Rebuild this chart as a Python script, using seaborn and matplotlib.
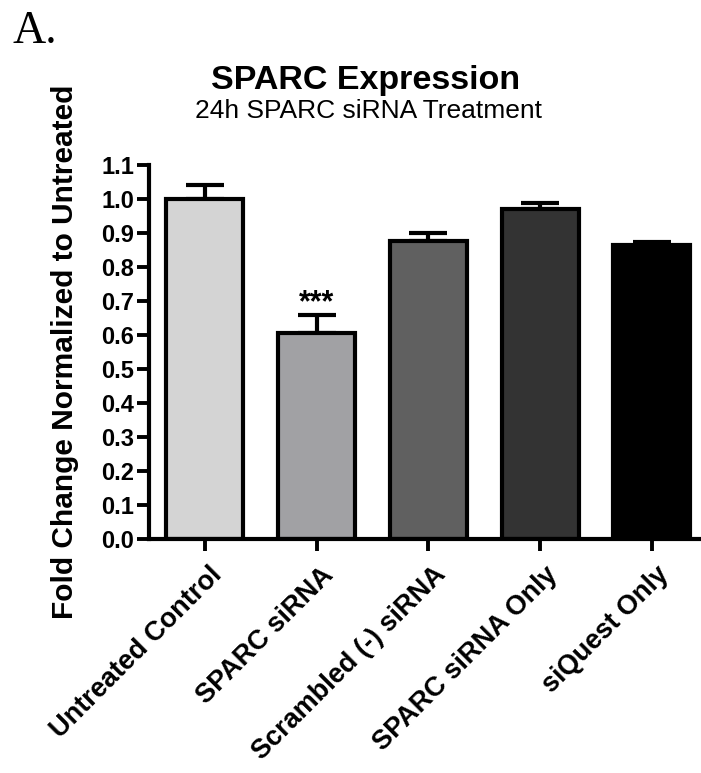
import matplotlib
matplotlib.use("Agg")
import matplotlib.pyplot as plt
import matplotlib.transforms as mtransforms
import seaborn as sns
import pandas as pd

# Treatment groups and fold-change results (mean and SEM)
groups = ["Untreated Control", "SPARC siRNA", "Scrambled (-) siRNA",
          "SPARC siRNA Only", "siQuest Only"]
fold_change = [1.00, 0.605, 0.876, 0.972, 0.866]
sem = [0.042, 0.054, 0.024, 0.016, 0.009]
bar_colors = ["#d4d4d4", "#a0a0a5", "#606060", "#333333", "#000000"]
y_ticks = [0.0, 0.1, 0.2, 0.3, 0.4, 0.5, 0.6, 0.7, 0.8, 0.9, 1.0, 1.1]

sns.set_theme(style="ticks")
plt.rcParams["font.family"] = ["Liberation Sans", "DejaVu Sans"]
plt.rcParams["text.color"] = "black"
plt.rcParams["axes.labelcolor"] = "black"

df = pd.DataFrame({"group": groups, "fold": fold_change})

fig = plt.figure(figsize=(7.01, 7.73), dpi=100)
ax = fig.add_axes([0.2126, 0.3027, 0.7874, 0.4838])

sns.barplot(data=df, x="group", y="fold", hue="group", palette=bar_colors,
            order=groups, hue_order=groups, legend=False, errorbar=None,
            width=0.69, edgecolor="black", linewidth=3, ax=ax, zorder=2)

# upper SEM bars only
xs = list(range(len(groups)))
ax.errorbar(xs, fold_change, yerr=[[0] * len(sem), sem], fmt="none",
            ecolor="black", elinewidth=3, capsize=14, capthick=3, zorder=1)

# significance marker
ax.text(1, fold_change[1] + sem[1] + 0.012, "***", ha="center",
        va="baseline", fontsize=22, fontweight="bold", color="black")

ax.set_xlim(-0.5, 4.44)
ax.set_ylim(0, 1.1)
ax.set_yticks(y_ticks)
ax.set_yticklabels([f"{t:.1f}" for t in y_ticks])
ax.set_xlabel("")
ax.set_ylabel("Fold Change Normalized to Untreated", fontsize=21.5,
              fontweight="bold", color="black")
ax.yaxis.set_label_coords(-0.127, 0.5)

for side in ("top", "right"):
    ax.spines[side].set_visible(False)
for side in ("left", "bottom"):
    ax.spines[side].set_linewidth(3)
    ax.spines[side].set_color("black")

ax.tick_params(axis="y", width=2.8, length=9, color="black", labelsize=17,
               labelcolor="black", pad=1.5)
ax.tick_params(axis="x", width=2.8, length=8.5, color="black",
               labelsize=19.5, labelcolor="black", pad=8)
for lbl in ax.get_yticklabels():
    lbl.set_fontweight("bold")
shift = mtransforms.ScaledTranslation(3 / 72, 0, fig.dpi_scale_trans)
for lbl in ax.get_xticklabels():
    lbl.set_fontweight("bold")
    lbl.set_rotation(45)
    lbl.set_ha("right")
    lbl.set_rotation_mode("anchor")
    lbl.set_transform(lbl.get_transform() + shift)

fig.text(0.521, 0.8855, "SPARC Expression", ha="center", va="baseline",
         fontsize=24.5, fontweight="bold", color="black")
fig.text(0.526, 0.847, "24h SPARC siRNA Treatment", ha="center",
         va="baseline", fontsize=19, color="black")
fig.text(0.018, 0.944, "A.", ha="left", va="baseline", fontsize=33,
         family="Liberation Serif", color="black")

fig.savefig("out.png", dpi=100)
